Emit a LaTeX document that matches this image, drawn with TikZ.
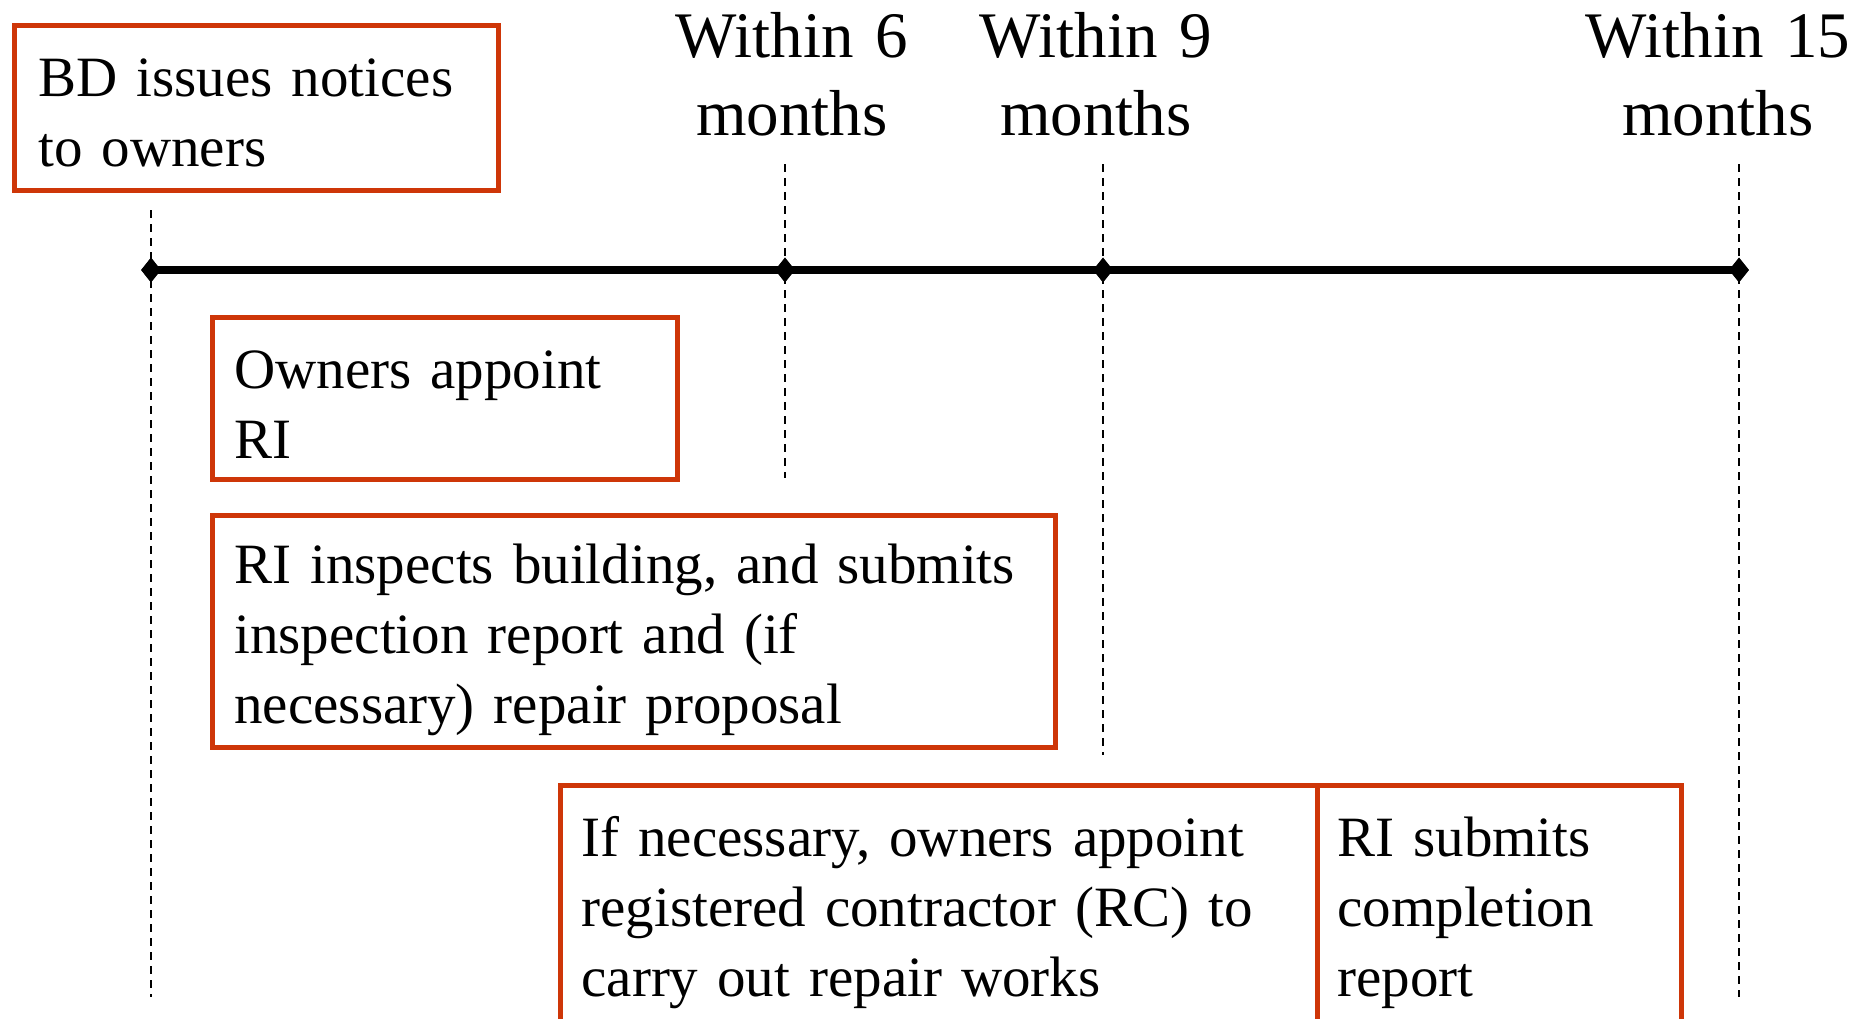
\documentclass[tikz,border=0pt]{standalone}
\usepackage{fontspec}
\setmainfont{Liberation Serif}
\usetikzlibrary{shapes.geometric}
\definecolor{boxred}{RGB}{206,54,8}
\tikzset{
  stagebox/.style={draw=boxred, line width=2.5pt, rectangle, inner sep=0pt},
  stagetext/.style={anchor=base west, inner sep=0pt, align=left, text width=420pt,
    font=\fontsize{28.5pt}{35pt}\selectfont},
  headtext/.style={anchor=base, inner sep=0pt, align=center, text width=170pt,
    font=\fontsize{32.5pt}{39pt}\selectfont},
  tick/.style={diamond, fill=black, draw=none, inner sep=0pt, minimum width=10pt, minimum height=12.5pt},
  guide/.style={line width=1pt, dash pattern=on 4pt off 3pt},
  axis/.style={line width=4pt}
}
\begin{document}
\begin{tikzpicture}[x=0.5pt,y=-0.5pt]
\clip (0,0) rectangle (1874,1018);
\fill[white] (0,0) rectangle (1874,1018);
% guide line end points
\coordinate (g0t) at (151,210); \coordinate (g0b) at (151,997);
\coordinate (g1t) at (785,164); \coordinate (g1b) at (785,478);
\coordinate (g2t) at (1103,164); \coordinate (g2b) at (1103,755);
\coordinate (g3t) at (1739,164); \coordinate (g3b) at (1739,997);
\draw[guide] (g0t) -- (g0b);
\draw[guide] (g1t) -- (g1b);
\draw[guide] (g2t) -- (g2b);
\draw[guide] (g3t) -- (g3b);
% timeline
\node[tick] (d0) at (151,270) {};
\node[tick] (d1) at (785,270) {};
\node[tick] (d2) at (1103,270) {};
\node[tick] (d3) at (1739,270) {};
\draw[axis] (d0.center) -- (d3.center);
\node[tick] at (d0) {};
\node[tick] at (d1) {};
\node[tick] at (d2) {};
\node[tick] at (d3) {};
% headers
\node[headtext] (h6) at (792,57) {Within 6\\months};
\node[headtext] (h9) at (1096,57) {Within 9\\months};
\node[headtext] (h15) at (1718,57) {Within 15\\months};
% boxes
\node[stagebox, minimum width=242pt, minimum height=82.5pt] (b1) at (256.5,108) {};
\node[stagebox, minimum width=232.5pt, minimum height=81pt] (b2) at (445,398.5) {};
\node[stagebox, minimum width=421.5pt, minimum height=116pt] (b3) at (634,631.5) {};
\node[stagebox, minimum width=378.25pt, minimum height=118.25pt] (b4) at (938.75,903.75) {};
\node[stagebox, minimum width=182.25pt, minimum height=118.25pt] (b5) at (1499.25,903.75) {};
% texts
\node[stagetext] (t1) at (38,96) {BD issues notices\\to owners};
\node[stagetext] (t2) at (234,388) {Owners appoint\\RI};
\node[stagetext] (t3) at (234,583) {RI inspects building, and submits\\inspection report and (if\\necessary) repair proposal};
\node[stagetext] (t4) at (581,856) {If necessary, owners appoint\\registered contractor (RC) to\\carry out repair works};
\node[stagetext] (t5) at (1337,856) {RI submits\\completion\\report};
\end{tikzpicture}
\end{document}
